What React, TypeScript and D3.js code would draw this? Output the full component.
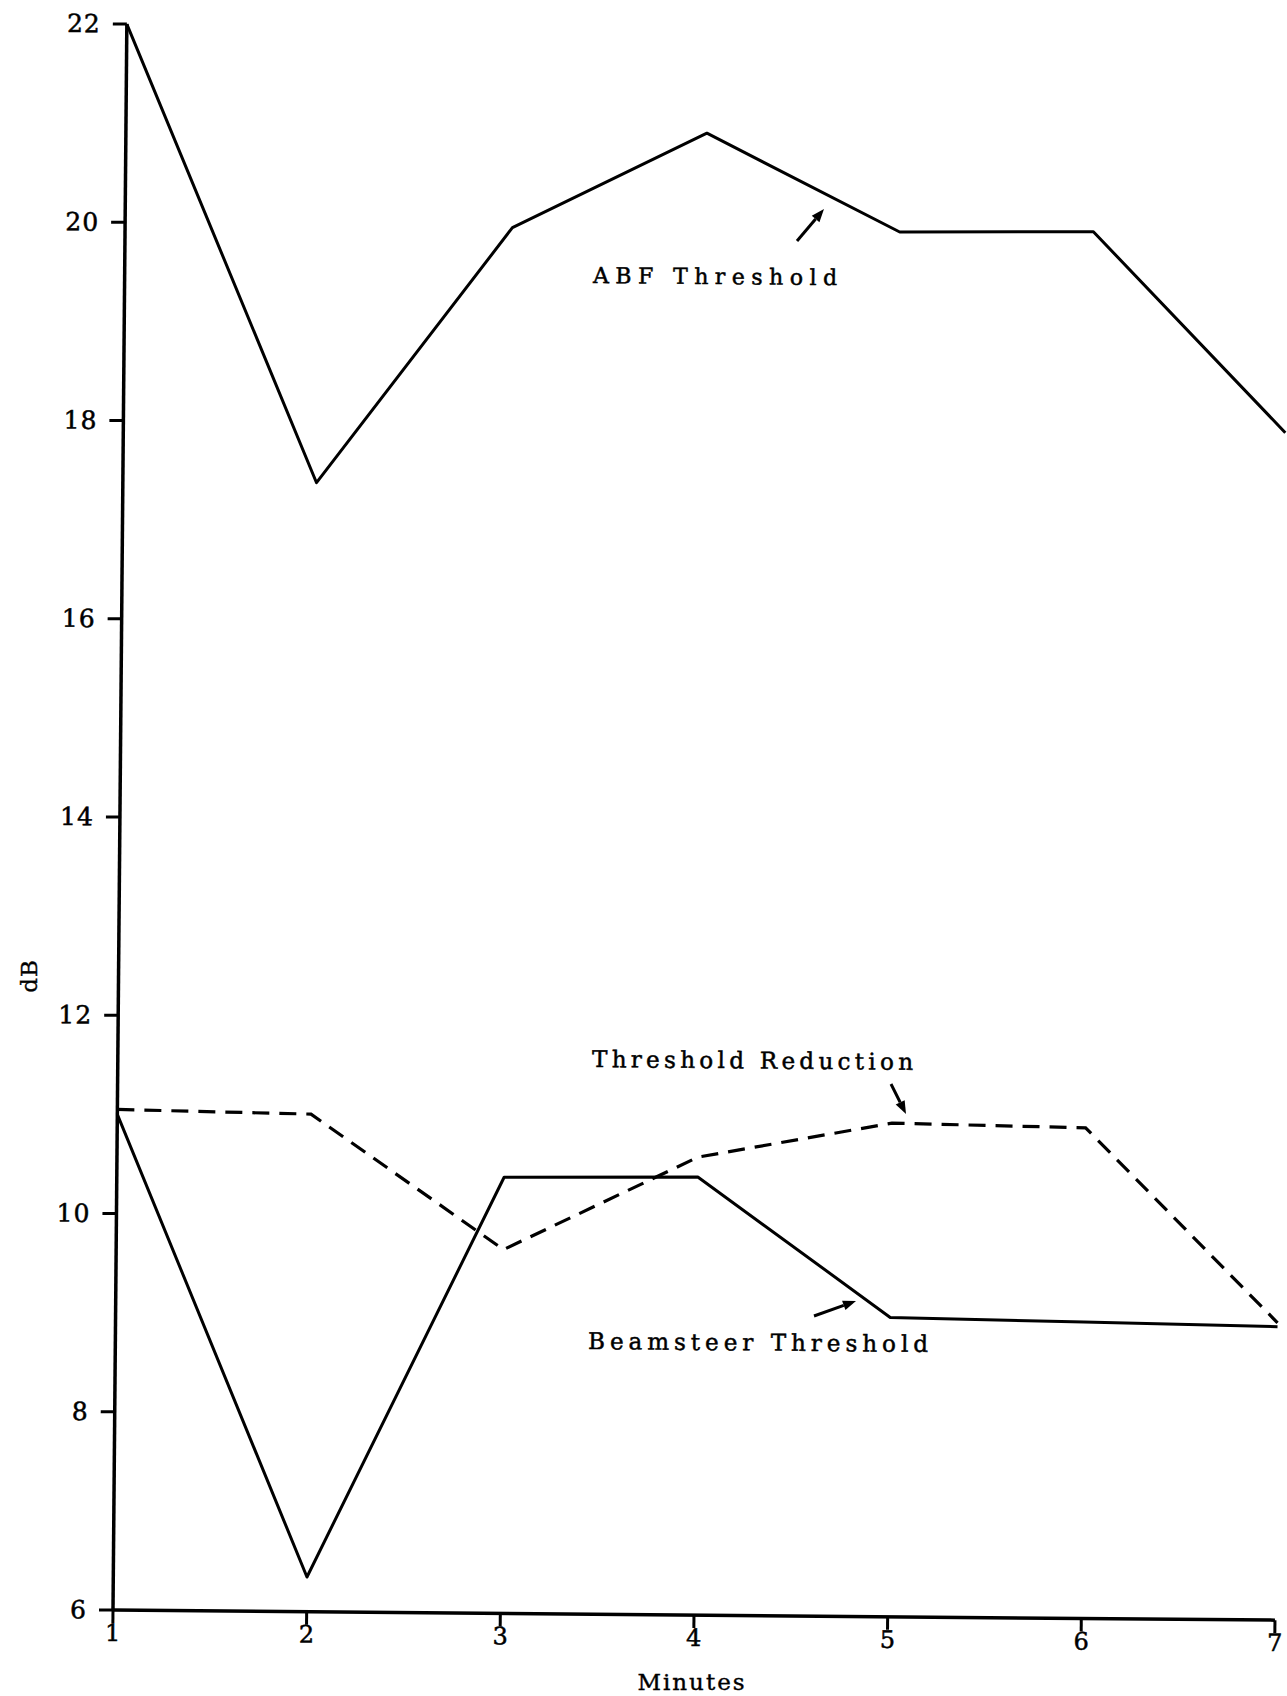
import React from "react";
import * as d3 from "d3";

// ---- data ----
const minutes = [1, 2, 3, 4, 5, 6, 7];
const abfThreshold = [22, 17.39, 19.98, 20.95, 19.97, 19.99, 17.98];
const thresholdReduction = [11.05, 11.02, 9.67, 10.62, 10.98, 10.95, 9.0];
const beamsteerThreshold = [11.0, 6.35, 10.4, 10.42, 9.02, 8.99, 8.96];
const yTickValues = [6, 8, 10, 12, 14, 16, 18, 20, 22];
const xTickValues = [1, 2, 3, 4, 5, 6, 7];

const W = 1287;
const H = 1696;
const X0 = 113;
const X1 = 1275;
const Y_TOP = 24;
const Y_BOT = 1610;
const TILT = 0.5;
const FONT = "'DejaVu Serif', 'Liberation Serif', serif";

function Arrow({ x1, y1, x2, y2 }: { x1: number; y1: number; x2: number; y2: number }) {
  const ang = Math.atan2(y2 - y1, x2 - x1);
  const len = 13;
  const half = 5;
  const bx = x2 - len * Math.cos(ang);
  const by = y2 - len * Math.sin(ang);
  const px = -Math.sin(ang) * half;
  const py = Math.cos(ang) * half;
  return (
    <g>
      <line x1={x1} y1={y1} x2={bx} y2={by} stroke="#000" strokeWidth={3} />
      <polygon points={`${x2},${y2} ${bx + px},${by + py} ${bx - px},${by - py}`} fill="#000" />
    </g>
  );
}

function Label({ x, y, len, size, children }: { x: number; y: number; len: number; size: number; children: string }) {
  return (
    <text
      x={x}
      y={y}
      fontSize={size}
      textLength={len}
      lengthAdjust="spacing"
      fill="#000"
      stroke="#000"
      strokeWidth={0.5}
      transform={`rotate(${TILT}, ${x}, ${y})`}
    >
      {children}
    </text>
  );
}

export default function App() {
  const x = d3.scaleLinear().domain([1, 7]).range([X0, X1]);
  const y = d3.scaleLinear().domain([6, 22]).range([Y_BOT, Y_TOP]);
  const mk = (vals: number[]) =>
    d3
      .line<number>()
      .x((_, i) => x(minutes[i]))
      .y((d) => y(d))(vals) as string;

  return (
    <svg
      width={W}
      height={H}
      style={{ position: "absolute", left: 0, top: 0, background: "#fff" }}
      fontFamily={FONT}
    >
      <rect x={0} y={0} width={W} height={H} fill="#fff" />
      <g transform={`rotate(${TILT}, ${X0}, ${Y_BOT})`}>
        {/* y axis */}
        <line x1={X0} y1={y(22)} x2={X0} y2={Y_BOT} stroke="#000" strokeWidth={3.5} />
        {yTickValues.map((v) => (
          <g key={"yt" + v}>
            <line x1={X0 - 14} x2={X0} y1={y(v)} y2={y(v)} stroke="#000" strokeWidth={3} />
            <text
              x={X0 - 26}
              y={y(v)}
              textAnchor="end"
              dominantBaseline="central"
              fontSize={25}
              letterSpacing={1}
              fill="#000"
              stroke="#000"
              strokeWidth={0.5}
            >
              {v}
            </text>
          </g>
        ))}
        {/* x axis */}
        <line x1={X0} y1={Y_BOT} x2={X1} y2={Y_BOT} stroke="#000" strokeWidth={3.5} />
        {xTickValues.map((v) => (
          <g key={"xt" + v}>
            <line x1={x(v)} x2={x(v)} y1={Y_BOT} y2={Y_BOT + 13} stroke="#000" strokeWidth={3} />
            <text
              x={x(v)}
              y={Y_BOT + 31}
              textAnchor="middle"
              fontSize={24}
              fill="#000"
              stroke="#000"
              strokeWidth={0.5}
            >
              {v}
            </text>
          </g>
        ))}

        {/* series */}
        <path d={mk(abfThreshold)} fill="none" stroke="#000" strokeWidth={3} strokeLinejoin="round" />
        <path d={mk(beamsteerThreshold)} fill="none" stroke="#000" strokeWidth={3} strokeLinejoin="round" />
        <path
          d={mk(thresholdReduction)}
          fill="none"
          stroke="#000"
          strokeWidth={3.2}
          strokeDasharray="17 10"
        />
      </g>

      {/* annotations */}
      <Label x={593} y={283} len={244} size={22}>ABF Threshold</Label>
      <Arrow x1={797} y1={241} x2={824} y2={209} />

      <Label x={592} y={1067} len={321} size={23}>Threshold Reduction</Label>
      <Arrow x1={891} y1={1084} x2={906} y2={1114} />

      <Label x={588} y={1349} len={340} size={23}>Beamsteer Threshold</Label>
      <Arrow x1={814} y1={1316} x2={856} y2={1301} />

      {/* axis titles */}
      <text
        x={692}
        y={1690}
        textAnchor="middle"
        fontSize={23}
        letterSpacing={2}
        fill="#000"
        stroke="#000"
        strokeWidth={0.4}
      >
        Minutes
      </text>
      <text
        transform="translate(37, 976) rotate(-90)"
        textAnchor="middle"
        fontSize={23}
        letterSpacing={1}
        fill="#000"
        stroke="#000"
        strokeWidth={0.4}
      >
        dB
      </text>
    </svg>
  );
}
